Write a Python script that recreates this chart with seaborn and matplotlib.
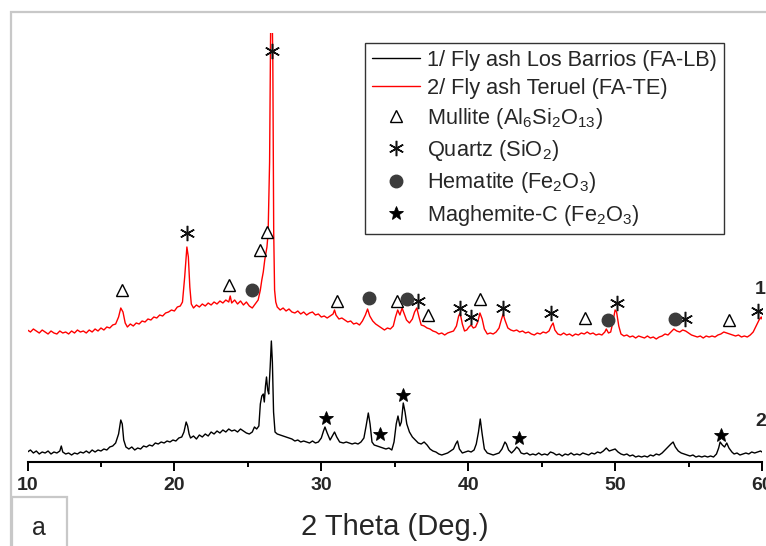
import matplotlib
matplotlib.use("Agg")
import matplotlib.pyplot as plt
from matplotlib.patches import Rectangle
from matplotlib.ticker import MultipleLocator
import seaborn as sns

# ---------------- data ----------------
red_2theta = [10.0, 10.2, 10.4, 10.6, 10.8, 11.0, 11.2, 11.4, 11.6, 11.8, 12.0, 12.2, 12.4, 12.6, 12.8,
              13.0, 13.2, 13.4, 13.6, 13.8, 14.0, 14.2, 14.4, 14.6, 14.8, 15.0, 15.2, 15.4, 15.6, 15.8,
              16.0, 16.2, 16.35, 16.5, 16.65, 16.8, 17.0, 17.2, 17.4, 17.6, 17.8, 18.0, 18.2, 18.4, 18.6,
              18.8, 19.0, 19.2, 19.4, 19.6, 19.8, 20.0, 20.2, 20.4, 20.55, 20.7, 20.85, 20.95, 21.05, 21.15,
              21.3, 21.5, 21.7, 21.9, 22.1, 22.3, 22.5, 22.7, 22.9, 23.1, 23.3, 23.5, 23.7, 23.8, 23.9,
              24.1, 24.3, 24.5, 24.7, 24.9, 25.1, 25.3, 25.5, 25.7, 25.85, 25.95, 26.05, 26.15, 26.3, 26.38,
              26.48, 26.56, 26.64, 26.7, 26.76, 26.82, 26.9, 27.0, 27.2, 27.4, 27.6, 27.8, 28.0, 28.2, 28.4,
              28.6, 28.8, 29.0, 29.2, 29.4, 29.6, 29.8, 30.0, 30.2, 30.4, 30.6, 30.8, 30.9, 31.0, 31.2,
              31.4, 31.6, 31.8, 32.0, 32.2, 32.4, 32.6, 32.8, 33.0, 33.15, 33.3, 33.5, 33.7, 33.9, 34.1,
              34.3, 34.5, 34.7, 34.9, 35.05, 35.2, 35.35, 35.5, 35.65, 35.8, 36.0, 36.2, 36.35, 36.5, 36.65,
              36.8, 37.0, 37.2, 37.4, 37.6, 37.8, 38.0, 38.2, 38.4, 38.6, 38.8, 39.0, 39.2, 39.35, 39.45,
              39.6, 39.75, 39.9, 40.05, 40.2, 40.35, 40.5, 40.65, 40.8, 40.95, 41.1, 41.3, 41.5, 41.7, 41.9,
              42.1, 42.25, 42.38, 42.5, 42.7, 42.9, 43.1, 43.3, 43.5, 43.7, 43.9, 44.1, 44.3, 44.5, 44.7,
              44.9, 45.1, 45.3, 45.5, 45.65, 45.78, 45.9, 46.1, 46.3, 46.5, 46.7, 46.9, 47.1, 47.3, 47.5,
              47.7, 47.9, 48.1, 48.3, 48.5, 48.7, 48.9, 49.1, 49.3, 49.4, 49.55, 49.7, 49.85, 50.0, 50.1,
              50.25, 50.4, 50.6, 50.8, 51.0, 51.2, 51.4, 51.6, 51.8, 52.0, 52.2, 52.4, 52.6, 52.8, 53.0,
              53.2, 53.4, 53.6, 53.8, 54.0, 54.2, 54.4, 54.6, 54.8, 55.0, 55.2, 55.4, 55.6, 55.8, 56.0,
              56.2, 56.4, 56.6, 56.8, 57.0, 57.2, 57.4, 57.6, 57.8, 58.0, 58.2, 58.4, 58.6, 58.8, 59.0,
              59.2, 59.4, 59.6, 59.8, 59.95, 60.0]
red_int = [132, 130, 133, 131, 129, 132, 130, 128, 131, 129, 128, 131, 129, 130, 128,
           131, 129, 132, 130, 131, 129, 132, 130, 133, 131, 134, 132, 135, 134, 137,
           138, 145, 154, 150, 139, 135, 138, 136, 139, 138, 141, 140, 143, 142, 145,
           144, 147, 146, 149, 150, 152, 151, 155, 156, 160, 185, 215, 205, 175, 158,
           154, 157, 155, 158, 156, 159, 157, 160, 158, 161, 159, 162, 160, 166, 159,
           162, 158, 161, 157, 160, 156, 154, 158, 162, 172, 182, 190, 202, 215, 229,
           300, 450, 470, 400, 230, 172, 160, 155, 152, 154, 151, 153, 150, 149, 151,
           148, 150, 147, 149, 150, 147, 148, 145, 146, 144, 146, 148, 152, 147, 143,
           144, 142, 140, 141, 138, 139, 137, 141, 147, 153, 146, 141, 138, 136, 134,
           132, 134, 133, 136, 145, 152, 147, 154, 148, 142, 139, 143, 150, 154, 145,
           137, 136, 134, 133, 131, 130, 128, 129, 127, 129, 130, 131, 136, 146, 149,
           138, 131, 132, 135, 137, 134, 135, 140, 149, 143, 133, 128, 129, 128, 130,
           134, 142, 148, 142, 134, 132, 131, 132, 130, 131, 129, 130, 128, 127, 129,
           128, 130, 129, 131, 136, 139, 132, 128, 127, 129, 127, 128, 126, 128, 127,
           129, 128, 130, 128, 129, 127, 128, 127, 130, 133, 129, 130, 140, 152, 150,
           136, 128, 126, 127, 125, 126, 124, 126, 125, 124, 126, 124, 125, 123, 125,
           126, 128, 127, 130, 133, 131, 130, 132, 131, 129, 127, 126, 125, 126, 124,
           126, 125, 126, 125, 127, 128, 130, 129, 128, 127, 126, 127, 125, 126, 125,
           127, 130, 136, 142, 145, 143]

black_2theta = [10.0, 10.2, 10.4, 10.6, 10.8, 11.0, 11.2, 11.4, 11.6, 11.8, 12.0, 12.2, 12.3, 12.4, 12.6,
                12.8, 13.0, 13.2, 13.4, 13.6, 13.8, 14.0, 14.2, 14.4, 14.6, 14.8, 15.0, 15.2, 15.4, 15.6,
                15.8, 16.0, 16.2, 16.35, 16.45, 16.55, 16.7, 16.9, 17.1, 17.3, 17.5, 17.7, 17.9, 18.1, 18.3,
                18.5, 18.7, 18.9, 19.1, 19.3, 19.5, 19.7, 19.9, 20.1, 20.3, 20.5, 20.65, 20.8, 20.9, 21.0,
                21.1, 21.3, 21.5, 21.7, 21.9, 22.1, 22.3, 22.5, 22.7, 22.9, 23.1, 23.3, 23.5, 23.7, 23.9,
                24.1, 24.3, 24.5, 24.7, 24.9, 25.1, 25.3, 25.45, 25.6, 25.75, 25.85, 25.95, 26.05, 26.12, 26.2,
                26.27, 26.35, 26.42, 26.52, 26.6, 26.67, 26.75, 26.85, 27.0, 27.2, 27.4, 27.6, 27.8, 28.0, 28.2,
                28.4, 28.6, 28.8, 29.0, 29.2, 29.4, 29.6, 29.8, 30.0, 30.15, 30.25, 30.4, 30.6, 30.75, 30.9,
                31.05, 31.25, 31.5, 31.7, 31.9, 32.1, 32.3, 32.5, 32.7, 32.9, 33.05, 33.2, 33.32, 33.45, 33.6,
                33.8, 34.0, 34.2, 34.4, 34.6, 34.8, 34.95, 35.1, 35.22, 35.35, 35.45, 35.58, 35.7, 35.82, 36.0,
                36.2, 36.4, 36.6, 36.8, 37.0, 37.2, 37.4, 37.6, 37.8, 38.0, 38.2, 38.4, 38.6, 38.8, 39.0,
                39.15, 39.27, 39.4, 39.6, 39.8, 40.0, 40.2, 40.4, 40.55, 40.7, 40.82, 40.95, 41.1, 41.3, 41.5,
                41.7, 41.9, 42.1, 42.3, 42.5, 42.6, 42.75, 42.95, 43.15, 43.3, 43.45, 43.6, 43.8, 44.0, 44.2,
                44.4, 44.6, 44.8, 45.0, 45.2, 45.4, 45.6, 45.8, 46.0, 46.2, 46.4, 46.6, 46.8, 47.0, 47.2,
                47.4, 47.6, 47.8, 48.0, 48.2, 48.4, 48.6, 48.8, 49.0, 49.2, 49.4, 49.6, 49.8, 50.0, 50.2,
                50.4, 50.6, 50.8, 51.0, 51.2, 51.4, 51.6, 51.8, 52.0, 52.2, 52.4, 52.6, 52.8, 53.0, 53.2,
                53.4, 53.6, 53.8, 53.95, 54.1, 54.3, 54.5, 54.7, 54.9, 55.1, 55.3, 55.5, 55.7, 55.9, 56.1,
                56.3, 56.5, 56.7, 56.9, 57.05, 57.15, 57.3, 57.45, 57.6, 57.75, 57.95, 58.1, 58.3, 58.5, 58.7,
                58.9, 59.1, 59.3, 59.5, 59.7, 59.9, 60.0]
black_int = [10, 12, 9, 11, 8, 10, 9, 11, 8, 10, 9, 11, 16, 10, 8,
             9, 7, 9, 8, 10, 9, 11, 9, 12, 10, 12, 11, 13, 12, 15,
             16, 19, 28, 42, 38, 22, 15, 13, 15, 12, 14, 13, 16, 15, 17,
             16, 19, 18, 20, 19, 21, 20, 22, 21, 24, 25, 30, 40, 36, 28,
             24, 26, 23, 27, 25, 28, 26, 30, 28, 31, 29, 32, 30, 33, 31,
             32, 30, 33, 31, 29, 28, 30, 35, 33, 36, 58, 66, 68, 60, 76,
             85, 72, 68, 95, 121, 100, 50, 30, 28, 27, 26, 25, 24, 23, 21,
             22, 20, 21, 20, 19, 21, 19, 20, 24, 31, 35, 29, 22, 26, 30,
             25, 20, 19, 20, 19, 18, 19, 18, 20, 24, 36, 49, 38, 20, 17,
             16, 15, 14, 13, 14, 12, 20, 38, 46, 36, 40, 59, 50, 38, 30,
             25, 22, 19, 18, 20, 17, 13, 11, 10, 8, 7, 8, 9, 11, 13,
             18, 21, 13, 9, 10, 11, 10, 12, 18, 30, 43, 28, 13, 9, 8,
             7, 8, 9, 13, 20, 18, 12, 9, 12, 15, 13, 9, 8, 9, 7,
             8, 7, 9, 7, 8, 7, 10, 9, 7, 8, 6, 8, 7, 9, 7,
             8, 7, 9, 8, 7, 9, 8, 10, 9, 11, 14, 11, 12, 13, 10,
             8, 7, 8, 6, 7, 5, 6, 5, 6, 5, 7, 6, 8, 7, 9,
             12, 15, 18, 20, 15, 11, 9, 8, 7, 6, 7, 5, 6, 5, 6,
             5, 6, 5, 8, 14, 20, 17, 15, 19, 14, 10, 8, 9, 7, 8,
             9, 8, 10, 9, 10, 11, 10]

mullite_2theta = [16.45, 23.73, 25.82, 26.27, 31.1, 35.14, 37.24, 40.83, 47.97, 57.72]
mullite_int = [172, 177, 212, 230, 161, 161, 147, 163, 144, 142]
quartz_2theta = [20.83, 26.61, 36.56, 39.47, 40.22, 42.37, 45.66, 50.15, 54.78, 59.76]
quartz_int = [229, 411, 161, 154, 145, 154, 149, 159, 143, 151]
hematite_2theta = [25.25, 33.23, 35.8, 49.51, 54.05]
hematite_int = [172, 164, 163, 142, 143]
maghemite_2theta = [30.35, 33.98, 35.54, 43.44, 57.22]
maghemite_int = [44, 28, 67, 24, 27]

x_ticks = [10, 20, 30, 40, 50, 60]
series_labels = ["1/ Fly ash Los Barrios (FA-LB)", "2/ Fly ash Teruel (FA-TE)"]
phase_labels = ["Mullite (Al$_6$Si$_2$O$_{13}$)", "Quartz (SiO$_2$)",
                "Hematite (Fe$_2$O$_3$)", "Maghemite-C (Fe$_2$O$_3$)"]
curve_tags = ["1", "2"]

# ---------------- style ----------------
sns.set_style("white")
plt.rcParams["font.family"] = ["Liberation Sans", "DejaVu Sans"]
plt.rcParams["mathtext.fontset"] = "custom"
plt.rcParams["mathtext.rm"] = "Liberation Sans"
plt.rcParams["mathtext.default"] = "regular"

W, H = 766, 546
fig = plt.figure(figsize=(W / 100, H / 100), dpi=100)
fig.patch.set_facecolor("white")
ax = fig.add_axes([27.5 / W, 84 / H, (762 - 27.5) / W, 429 / H])
ax.set_facecolor("none")

# outer light-grey frame and panel-letter box
fig.patches.append(Rectangle((11 / W, -0.5), 2.0, 0.5 + (1 - 12 / H), transform=fig.transFigure,
                             fill=False, ec="#c8c8c8", lw=1.6, zorder=0))
fig.patches.append(Rectangle((12 / W, -0.5), 55 / W, 0.5 + (1 - 497 / H), transform=fig.transFigure,
                             fill=False, ec="#c8c8c8", lw=1.6, zorder=0))

sns.lineplot(x=black_2theta, y=black_int, ax=ax, color="black", lw=1.0, estimator=None,
             sort=False, label=series_labels[0])
sns.lineplot(x=red_2theta, y=red_int, ax=ax, color="red", lw=1.0, estimator=None,
             sort=False, label=series_labels[1])

ax.plot(mullite_2theta, mullite_int, ls="none", marker="^", ms=9, mfc="white", mec="black",
        mew=1.0, label=phase_labels[0], zorder=5)
ax.plot(quartz_2theta, quartz_int, ls="none", marker=(6, 2, 0), ms=11, mec="#111111", mew=1.1,
        label=phase_labels[1], zorder=5)
ax.plot(hematite_2theta, hematite_int, ls="none", marker="o", ms=9, mfc="#3c3c3c", mec="#3c3c3c",
        label=phase_labels[2], zorder=5)
ax.plot(maghemite_2theta, maghemite_int, ls="none", marker="*", ms=10.5, mfc="black", mec="black",
        mew=0.6, label=phase_labels[3], zorder=5)

ax.text(59.49, 172, curve_tags[0], fontsize=14, fontweight="bold", va="center", ha="left", clip_on=False)
ax.text(59.55, 40, curve_tags[1], fontsize=14, fontweight="bold", va="center", ha="left", clip_on=False)

ax.set_xlim(10, 60)
ax.set_ylim(0, 429)
ax.set_yticks([])
ax.set_ylabel("")
for s in ["left", "top", "right"]:
    ax.spines[s].set_visible(False)
ax.spines["bottom"].set_linewidth(1.5)
ax.spines["bottom"].set_color("black")
ax.set_xticks(x_ticks)
ax.xaxis.set_minor_locator(MultipleLocator(5))
ax.tick_params(axis="x", which="major", direction="out", length=6.5, width=1.4, labelsize=14,
               pad=4, color="black", bottom=True)
ax.tick_params(axis="x", which="minor", direction="out", length=3.5, width=1.4, color="black",
               bottom=True)
ax.set_xticklabels([str(t) for t in x_ticks], fontweight="bold")
ax.set_xlabel("2 Theta (Deg.)", fontsize=21, labelpad=14)

fig.text(39 / W, 1 - 528 / H, "a", fontsize=18, ha="center", va="center")

h, l = ax.get_legend_handles_labels()
leg = ax.legend(h, l, loc="upper left", bbox_to_anchor=(365 / W, 1 - 43 / H),
                bbox_transform=fig.transFigure, fontsize=15.7, frameon=True, fancybox=False,
                edgecolor="black", borderaxespad=0, borderpad=0.3, handlelength=2.2,
                handletextpad=0.35, labelspacing=0.33, numpoints=1)
leg.get_frame().set_linewidth(1.0)

fig.savefig("out.png", dpi=100)
